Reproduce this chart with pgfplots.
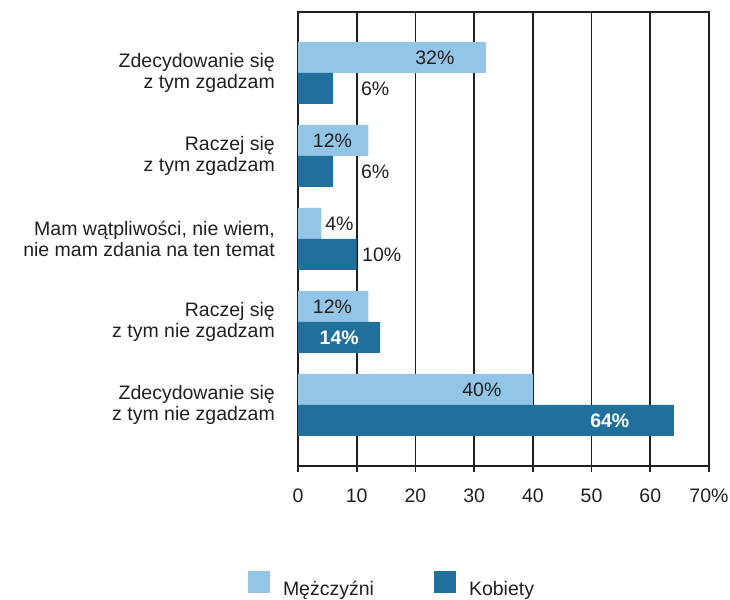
\documentclass[border=0pt]{standalone}
\usepackage{fontspec}
\setmainfont{Liberation Sans}
\usepackage{pgfplots}
\usepackage{pgfplotstable}
\pgfplotsset{compat=1.18}
\definecolor{lightb}{HTML}{92C5E6}
\definecolor{darkb}{HTML}{20709B}
\definecolor{ink}{HTML}{231F20}

\pgfplotstableread{
y x dx
4 32 -51
3 12 -36
2 4 18
1 12 -36
0 40 -51
}\men
\pgfplotstableread{
y x dx
4 6 42
3 6 42
2 10 25
}\womenA
\pgfplotstableread{
y x dx
1 14 -41
0 64 -64
}\womenB

\newcommand{\ff}{\fontsize{19.5}{21}\selectfont}

\begin{document}
\begin{tikzpicture}[x=1pt,y=1pt]
\path[use as bounding box] (0,0) rectangle (730,599);
\begin{axis}[
  at={(298pt,133pt)}, anchor=south west,
  scale only axis, width=411pt, height=454pt,
  /pgf/number format/assume math mode=true,
  xbar, bar width=0.3735,
  xmin=0, xmax=70, ymin=-0.735, ymax=4.735,
  xtick={0,10,...,70},
  xticklabels={0,10,20,30,40,50,60,70\%},
  ytick={0,1,2,3,4},
  yticklabels={{Zdecydowanie się\\z tym nie zgadzam},{Raczej się\\z tym nie zgadzam},{Mam wątpliwości, nie wiem,\\nie mam zdania na ten temat},{Raczej się\\z tym zgadzam},{Zdecydowanie się\\z tym zgadzam}},
  xmajorgrids,
  major grid style={ink, line width=1.7pt},
  axis line style={ink, line width=1.7pt},
  tick align=outside,
  xtick pos=bottom,
  major tick length=6pt,
  xtick style={ink, line width=1.7pt},
  ytick style={draw=none},
  tick label style={font=\ff, text=ink},
  xticklabel style={inner sep=0pt, anchor=north, yshift=-17pt},
  yticklabel style={inner sep=0pt, anchor=east, xshift=-17pt, align=right},
  point meta=x,
  nodes near coords={\pgfmathprintnumber{\pgfplotspointmeta}\%},
  visualization depends on={\thisrow{dx} \as \dx},
  every node near coord/.append style={anchor=center, xshift=\dx*1pt, font=\ff, text=ink, inner sep=0pt},
  legend columns=2,
  legend image code/.code={\fill[#1] (0pt,-4pt) rectangle (22pt,18pt);},
  legend style={at={(-0.12165,-0.2599)}, anchor=west, draw=none, fill=none,
    inner sep=0pt, outer sep=0pt, font=\ff, text=ink,
    nodes={inner sep=0pt},
    /tikz/column sep=0pt,
    /tikz/every odd column/.append style={column sep=13pt},
    /tikz/every even column/.append style={column sep=60pt}},
  legend cell align=left,
]
\addplot[draw=none, fill=lightb, bar shift=0.18675] table[x=x, y=y] {\men};
\addlegendentry{Mężczyźni}
\addplot[draw=none, fill=darkb, bar shift=-0.18675] table[x=x, y=y] {\womenA};
\addlegendentry{Kobiety}
\addplot[draw=none, fill=darkb, bar shift=-0.18675, forget plot,
  every node near coord/.append style={text=white, font=\ff\bfseries}] table[x=x, y=y] {\womenB};
\end{axis}
\end{tikzpicture}
\end{document}
